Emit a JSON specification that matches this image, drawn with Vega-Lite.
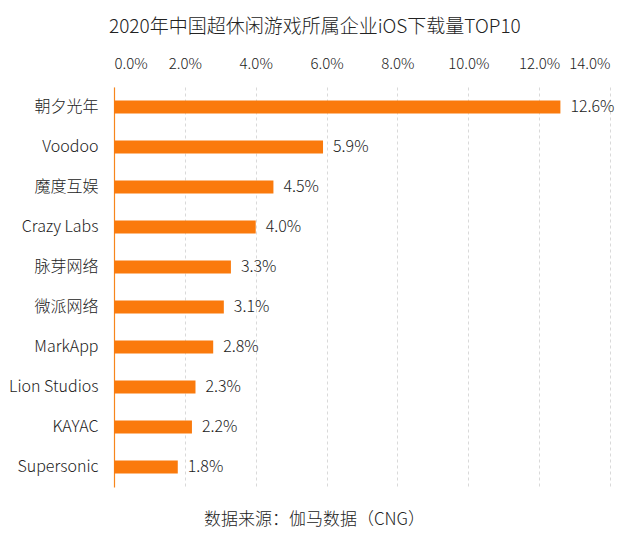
{
  "$schema": "https://vega.github.io/schema/vega-lite/v6.json",
  "width": 496,
  "height": 400,
  "autosize": {"type": "none"},
  "padding": {"left": 114, "top": 87, "right": 30, "bottom": 50},
  "background": "white",
  "config": {
    "font": "Noto Sans CJK SC",
    "view": {"stroke": null}
  },
  "title": {
    "text": "2020年中国超休闲游戏所属企业iOS下载量TOP10",
    "anchor": "start",
    "frame": "group",
    "dx": -5,
    "offset": 19,
    "fontSize": 19,
    "fontWeight": 300,
    "color": "#222222"
  },
  "data": {
    "values": [
      {"company": "朝夕光年", "share": 0.126},
      {"company": "Voodoo", "share": 0.059},
      {"company": "魔度互娱", "share": 0.045},
      {"company": "Crazy Labs", "share": 0.040},
      {"company": "脉芽网络", "share": 0.033},
      {"company": "微派网络", "share": 0.031},
      {"company": "MarkApp", "share": 0.028},
      {"company": "Lion Studios", "share": 0.023},
      {"company": "KAYAC", "share": 0.022},
      {"company": "Supersonic", "share": 0.018}
    ]
  },
  "encoding": {
    "y": {
      "field": "company",
      "type": "nominal",
      "sort": null,
      "scale": {"paddingInner": 0.68, "paddingOuter": 0.34},
      "axis": {
        "title": null,
        "ticks": false,
        "labelFontSize": 16,
        "labelFontWeight": 300,
        "labelColor": "#222222",
        "labelPadding": 16,
        "domainColor": "#F7861C",
        "domainWidth": 1.2
      }
    }
  },
  "layer": [
    {
      "mark": {"type": "bar", "color": "#FA7A0C"},
      "encoding": {
        "x": {
          "field": "share",
          "type": "quantitative",
          "scale": {"domain": [0, 0.14], "nice": false},
          "axis": {
            "orient": "top",
            "format": ".1%",
            "values": [0, 0.02, 0.04, 0.06, 0.08, 0.1, 0.12, 0.14],
            "labelOverlap": false,
            "title": null,
            "domain": false,
            "ticks": false,
            "labelFontSize": 15,
            "labelFontWeight": 300,
            "labelColor": "#222222",
            "labelPadding": 16,
            "grid": true,
            "gridColor": "#D9D9D9",
            "gridDash": [3, 3]
          }
        }
      }
    },
    {
      "mark": {"type": "text", "align": "left", "dx": 10, "fontSize": 16, "fontWeight": 300, "color": "#222222"},
      "encoding": {
        "x": {
          "field": "share",
          "type": "quantitative",
          "scale": {"domain": [0, 0.14], "nice": false},
          "axis": {
            "orient": "bottom",
            "labels": false,
            "ticks": false,
            "domain": false,
            "grid": false,
            "title": "数据来源：伽马数据（CNG）",
            "titleFontSize": 17,
            "titleFontWeight": 300,
            "titleColor": "#222222",
            "titleX": 200,
            "titleY": 37,
            "titleBaseline": "alphabetic"
          }
        },
        "text": {"field": "share", "type": "quantitative", "format": ".1%"}
      }
    }
  ],
  "resolve": {"axis": {"x": "independent"}}
}
